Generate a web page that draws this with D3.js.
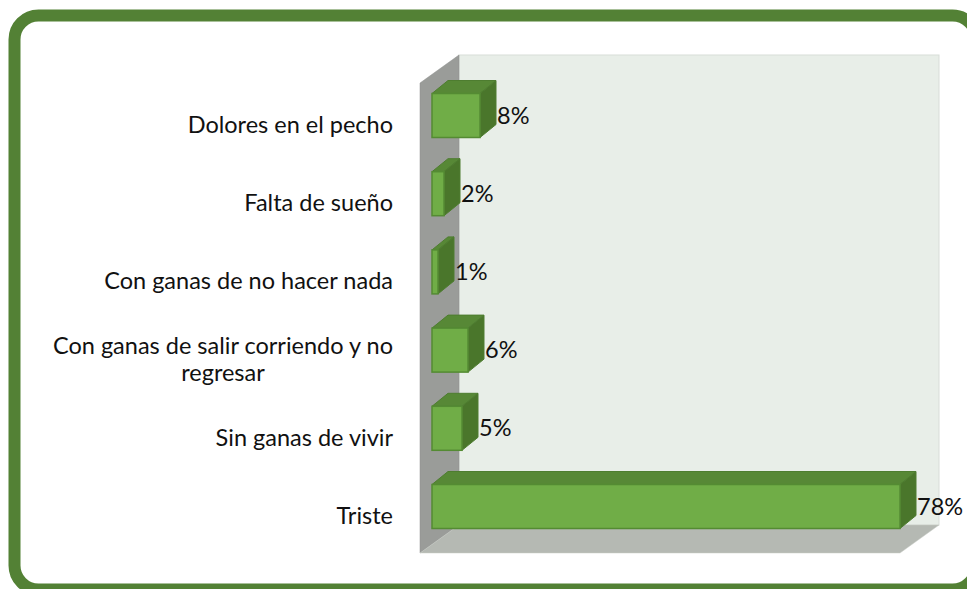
<!DOCTYPE html>
<html>
<head>
<meta charset="utf-8">
<script src="https://cdn.jsdelivr.net/npm/d3@7"></script>
<style>
body { margin: 0; background: #fff; }
text { font-family: Lato, "Open Sans", sans-serif; fill: #111; }
</style>
</head>
<body>
<div id="viz"></div>
<script>
// data
var categories = ["Dolores en el pecho", "Falta de sueño", "Con ganas de no hacer nada",
	"Con ganas de salir corriendo y no regresar", "Sin ganas de vivir", "Triste"];
var values = [8, 2, 1, 6, 5, 78];
var valueLabels = ["8%", "2%", "1%", "6%", "5%", "78%"];
var labelLines = [["Dolores en el pecho"], ["Falta de sueño"], ["Con ganas de no hacer nada"],
	["Con ganas de salir corriendo y no", "regresar"], ["Sin ganas de vivir"], ["Triste"]];

var W = 967, H = 589;
var svg = d3.select("#viz")
	.append("svg")
	.attr("width", W)
	.attr("height", H);

// frame
svg.append("rect")
	.attr("x", 14.5).attr("y", 15.5)
	.attr("width", 962).attr("height", 574)
	.attr("rx", 24)
	.attr("fill", "#fff")
	.attr("stroke", "#538135")
	.attr("stroke-width", 12);

// 3d plot box
var DX = 39, DY = 28;      // depth of walls
var BX = 16, BY = 13;      // depth of bars
var pLeft = 420, pRight = 900, pTop = 83, pBottom = 553;

var x = d3.scaleLinear().domain([0, 78]).range([432, 900]);
var y = d3.scalePoint().domain(categories).range([115.5, 506.5]);
var barH = 44;
var fs = 23.5;

// back wall
svg.append("rect")
	.attr("x", pLeft + DX).attr("y", pTop - DY)
	.attr("width", pRight - pLeft).attr("height", pBottom - pTop)
	.attr("fill", "#e8eee8")
	.attr("stroke", "#d8ddd8");

// left wall
svg.append("polygon")
	.attr("points", [[pLeft, pTop], [pLeft + DX, pTop - DY], [pLeft + DX, pBottom - DY], [pLeft, pBottom]].join(" "))
	.attr("fill", "#9a9c99")
	.attr("stroke", "#8d8f8c").attr("stroke-width", 0.5);

// floor
svg.append("polygon")
	.attr("points", [[pLeft, pBottom], [pRight, pBottom], [pRight + DX, pBottom - DY], [pLeft + DX, pBottom - DY]].join(" "))
	.attr("fill", "#b5b9b3")
	.attr("stroke", "#c8ccc6").attr("stroke-width", 0.5);

// bars
var bars = svg.selectAll("g.bar")
	.data(values)
	.enter()
	.append("g")
	.attr("class", "bar");

bars.each(function(d, i) {
	var g = d3.select(this);
	var x0 = x(0), x1 = x(d);
	var y0 = y(categories[i]) - barH / 2, y1 = y0 + barH;
	// top face
	g.append("polygon")
		.attr("points", [[x0, y0], [x1, y0], [x1 + BX, y0 - BY], [x0 + BX, y0 - BY]].join(" "))
		.attr("fill", "#578836")
		.attr("stroke", "#4e7d30").attr("stroke-width", 1);
	// side face
	g.append("polygon")
		.attr("points", [[x1, y0], [x1 + BX, y0 - BY], [x1 + BX, y1 - BY], [x1, y1]].join(" "))
		.attr("fill", "#4a762b")
		.attr("stroke", "#4e7d30").attr("stroke-width", 1);
	// front face
	g.append("rect")
		.attr("x", x0).attr("y", y0)
		.attr("width", x1 - x0).attr("height", barH)
		.attr("fill", "#70ad47")
		.attr("stroke", "#548b33").attr("stroke-width", 1.5);
});

// value labels
bars.append("text")
	.attr("x", function(d) { return x(d) + BX + 1; })
	.attr("y", function(d, i) { return y(categories[i]) + 8; })
	.attr("font-size", fs)
	.text(function(d, i) { return valueLabels[i]; });

// category labels
var labels = svg.selectAll("text.cat")
	.data(categories)
	.enter()
	.append("text")
	.attr("class", "cat")
	.attr("font-size", fs)
	.attr("text-anchor", "end");

labels.each(function(c, i) {
	var lines = labelLines[i];
	var t = d3.select(this);
	var base = y(c) + 17.5 - (lines.length - 1) * 14;
	if (lines.length == 1) {
		t.append("tspan").attr("x", 393).attr("y", base).text(lines[0]);
	} else {
		// wrapped label: lines centred on each other, block flush right
		t.attr("text-anchor", "middle");
		var w = 0;
		lines.forEach(function(l, k) {
			var sp = t.append("tspan").attr("y", base + k * 27).text(l);
			w = Math.max(w, sp.node().getComputedTextLength());
		});
		t.selectAll("tspan").attr("x", 393 - w / 2);
	}
});
</script>
</body>
</html>
